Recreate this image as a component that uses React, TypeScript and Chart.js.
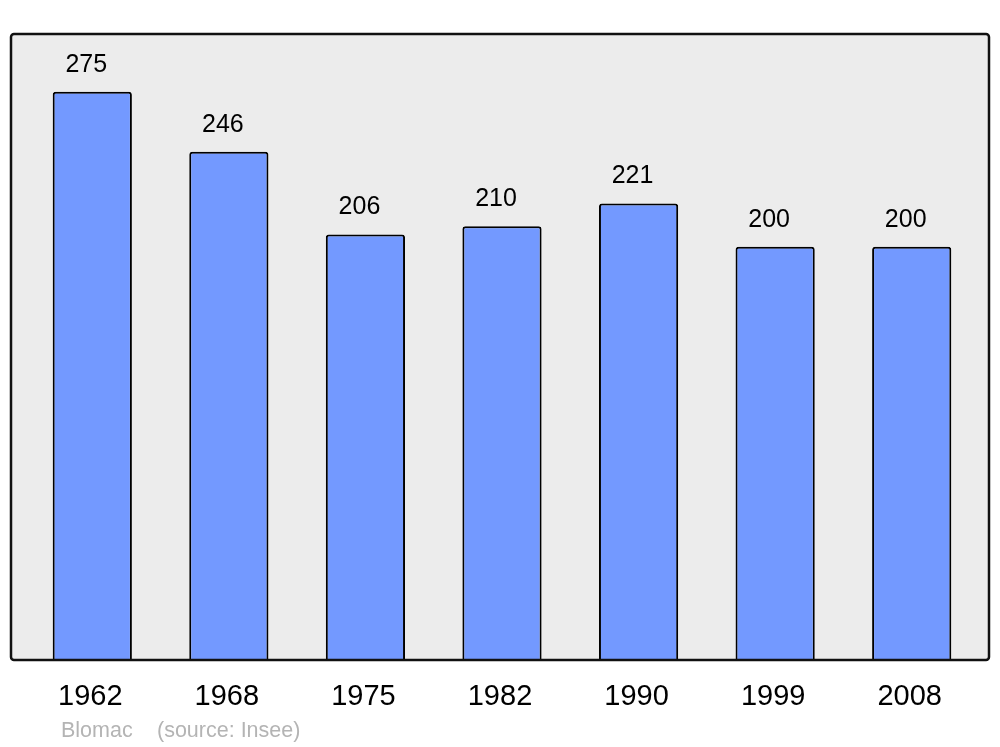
import React, { useEffect, useRef } from "react";
import { Chart, registerables } from "chart.js";

Chart.register(...registerables);

const years = ["1962", "1968", "1975", "1982", "1990", "1999", "2008"];
const population = [275, 246, 206, 210, 221, 200, 200];
const footerTexts = ["Blomac", "(source: Insee)"];

const FONT = "'Liberation Sans', Arial, sans-serif";

const framePlugin = {
  id: "frame",
  beforeDraw(chart: any) {
    const { ctx, chartArea } = chart;
    const l = chartArea.left - 13;
    const r = chartArea.right + 9;
    const t = chartArea.top;
    const b = chartArea.bottom;
    ctx.save();
    ctx.beginPath();
    (ctx as any).roundRect(l, t, r - l, b - t, 3);
    ctx.fillStyle = "#ececec";
    ctx.fill();
    ctx.restore();
  },
  afterDatasetsDraw(chart: any) {
    const { ctx, chartArea } = chart;
    const l = chartArea.left - 13;
    const r = chartArea.right + 9;
    const t = chartArea.top;
    const b = chartArea.bottom;
    ctx.save();
    ctx.beginPath();
    (ctx as any).roundRect(l, t, r - l, b - t, 3);
    ctx.lineWidth = 2.5;
    ctx.strokeStyle = "#111";
    ctx.stroke();
    // value labels
    const meta = chart.getDatasetMeta(0);
    ctx.fillStyle = "#000";
    ctx.font = `25px ${FONT}`;
    ctx.textAlign = "center";
    ctx.textBaseline = "middle";
    meta.data.forEach((bar: any, i: number) => {
      ctx.fillText(String(population[i]), bar.x - 6, bar.y - 27);
    });
    // footer
    ctx.fillStyle = "#b4b4b4";
    ctx.font = `21.5px ${FONT}`;
    ctx.textAlign = "left";
    ctx.fillText(footerTexts[0], l + 50, 731);
    ctx.fillText(footerTexts[1], l + 146, 731);
    ctx.restore();
  },
};

export default function App() {
  const ref = useRef<HTMLCanvasElement>(null);
  useEffect(() => {
    if (!ref.current) return;
    const chart = new Chart(ref.current, {
      type: "bar",
      data: {
        labels: years,
        datasets: [
          {
            data: population,
            backgroundColor: "#7399ff",
            borderColor: "#000",
            borderWidth: 2,
            borderRadius: 3,
            borderSkipped: "start",
            categoryPercentage: 1,
            barPercentage: 0.58,
          },
        ],
      },
      options: {
        animation: false,
        responsive: false,
        layout: { padding: { top: 34, left: 24, right: 20, bottom: 0 } },
        plugins: { legend: { display: false }, tooltip: { enabled: false } },
        scales: {
          x: {
            grid: { display: false },
            border: { display: false },
            ticks: { color: "#000", font: { family: FONT, size: 29 }, padding: 12, labelOffset: -2 },
            afterFit: (scale: any) => {
              scale.height = 87;
            },
          },
          y: { display: false, min: 0, max: 303 },
        },
      },
      plugins: [framePlugin],
    });
    return () => chart.destroy();
  }, []);
  return (
    <div style={{ position: "absolute", left: 0, top: 0, width: 1000, height: 747, background: "#fff" }}>
      <canvas ref={ref} width={1000} height={747} />
    </div>
  );
}
